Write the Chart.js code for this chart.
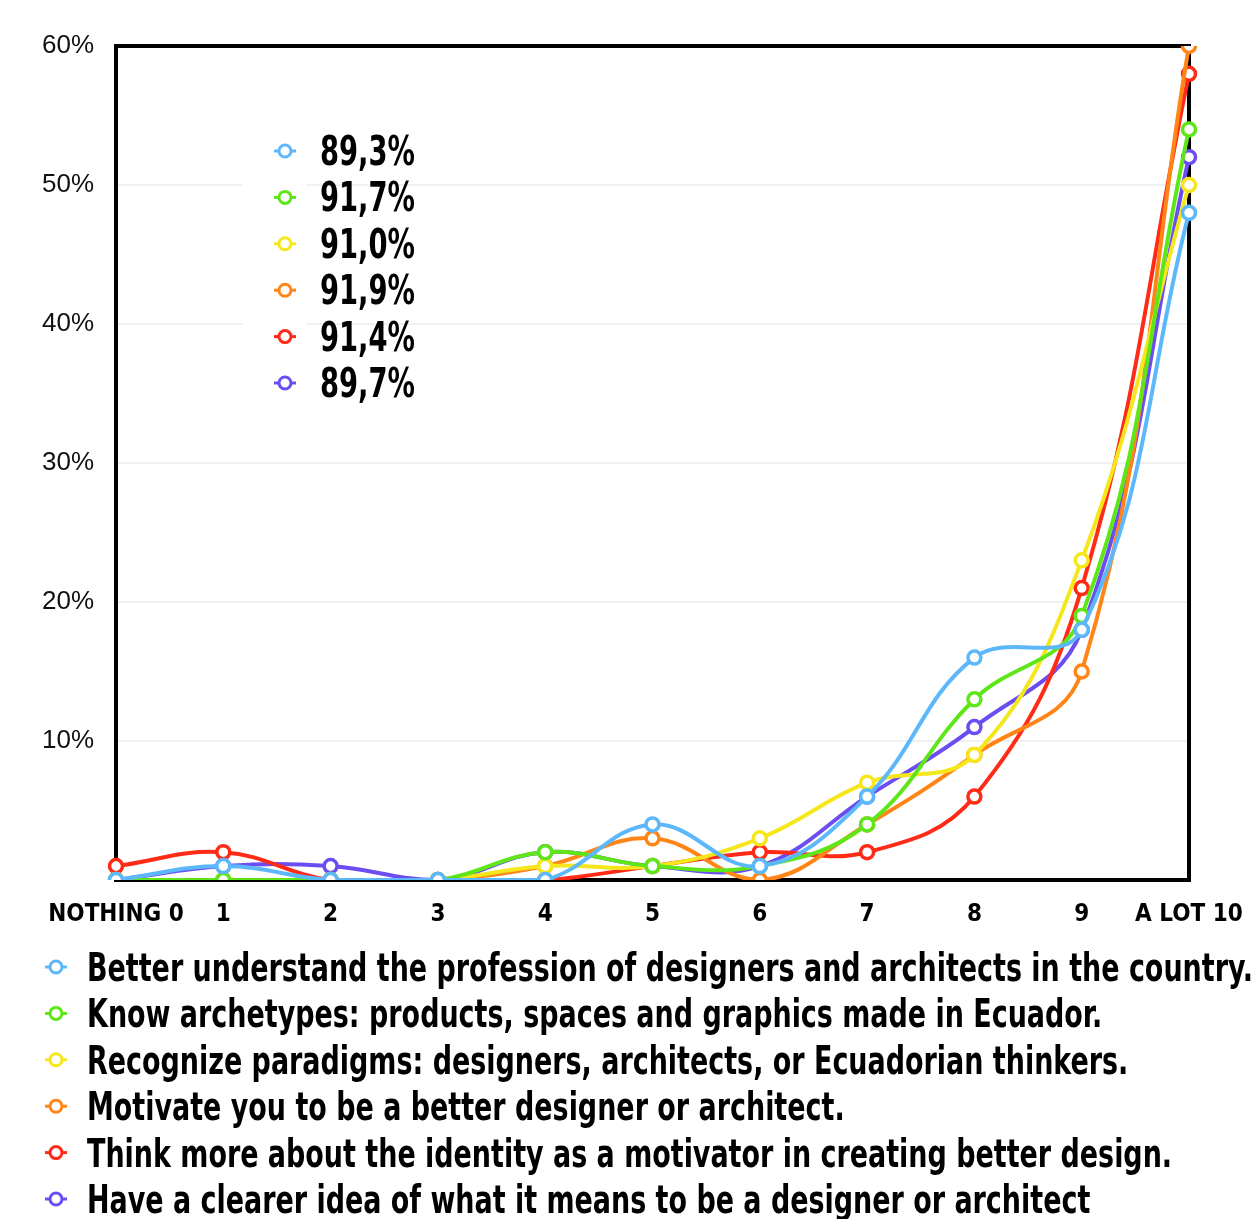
<!DOCTYPE html>
<html>
<head>
<meta charset="utf-8">
<script src="https://cdn.jsdelivr.net/npm/chart.js@4/dist/chart.umd.min.js"></script>
<style>
  html, body { margin: 0; padding: 0; background: #fff; }
  #wrap { width: 1256px; height: 1219px; }
</style>
</head>
<body>
<div id="wrap"><canvas id="chart-motivation" width="1256" height="1219"></canvas></div>
<script>
// data
const xLabels = ['NOTHING 0', '1', '2', '3', '4', '5', '6', '7', '8', '9', 'A LOT 10'];
const yTicks = [0, 10, 20, 30, 40, 50, 60];

const blueData   = [0, 1, 0, 0, 0, 4, 1, 6, 16, 18, 48];
const greenData  = [0, 0, 0, 0, 2, 1, 1, 4, 13, 19, 54];
const yellowData = [0, 0, 0, 0, 1, 1, 3, 7, 9, 23, 50];
const orangeData = [0, 0, 0, 0, 1, 3, 0, 4, 9, 15, 60];
const redData    = [1, 2, 0, 0, 0, 1, 2, 2, 6, 21, 58];
const purpleData = [0, 1, 1, 0, 2, 1, 1, 6, 11, 18, 52];

const seriesNames = [
    'Better understand the profession of designers and architects in the country.',
    'Know archetypes: products, spaces and graphics made in Ecuador.',
    'Recognize paradigms: designers, architects, or Ecuadorian thinkers.',
    'Motivate you to be a better designer or architect.',
    'Think more about the identity as a motivator in creating better design.',
    'Have a clearer idea of what it means to be a designer or architect'
];
const totals = ['89,3%', '91,7%', '91,0%', '91,9%', '91,4%', '89,7%'];
const colors = ['#5cb8fb', '#5fe619', '#f6e61c', '#ff8517', '#ff2b17', '#6b4df2'];

const condensed = '"Liberation Sans Narrow", "DejaVu Sans Condensed", "Roboto Condensed", "Liberation Sans", Arial, sans-serif';

function makeSet(i, data) {
    return {
        label: seriesNames[i],
        data: data,
        borderColor: colors[i],
        backgroundColor: '#ffffff',
        pointBorderColor: colors[i],
        pointBackgroundColor: '#ffffff',
        pointRadius: 6.5,
        pointBorderWidth: 3.5,
        borderWidth: 4,
        tension: 0.4,
        fill: false
    };
}

// black frame round the plot, under the lines
const framePlugin = {
    id: 'frame',
    beforeDatasetsDraw(chart) {
        const a = chart.chartArea;
        const ctx = chart.ctx;
        ctx.save();
        // white patch behind the inner legend markers
        ctx.fillStyle = '#ffffff';
        ctx.fillRect(243, 128, 64, 276);
        ctx.strokeStyle = '#000';
        ctx.lineWidth = 4;
        ctx.strokeRect(a.left, a.top, a.right - a.left, a.bottom - a.top);
        ctx.restore();
    }
};

function drawMarker(ctx, x, y, color) {
    ctx.save();
    ctx.strokeStyle = color;
    ctx.lineWidth = 3;
    ctx.beginPath();
    ctx.moveTo(x - 11, y);
    ctx.lineTo(x + 11, y);
    ctx.stroke();
    ctx.beginPath();
    ctx.arc(x, y, 6, 0, Math.PI * 2);
    ctx.fillStyle = '#fff';
    ctx.fill();
    ctx.stroke();
    ctx.restore();
}

function drawSqueezed(ctx, text, x, y, font, targetWidth, refText) {
    ctx.save();
    ctx.font = font;
    const w = ctx.measureText(refText).width;
    const sx = targetWidth / w;
    ctx.translate(x, y);
    ctx.scale(sx, 1);
    ctx.fillText(text, 0, 0);
    ctx.restore();
}

// both legends: percentages inside the plot, descriptions below it
const legendPlugin = {
    id: 'customLegends',
    afterDraw(chart) {
        const ctx = chart.ctx;
        ctx.save();
        ctx.fillStyle = '#000';
        ctx.textBaseline = 'alphabetic';
        chart.data.datasets.forEach(function (ds, i) {
            const y = 151 + i * 46.4;
            drawMarker(ctx, 285, y, ds.borderColor);
            drawSqueezed(ctx, totals[i], 320, y + 14, 'bold 40px ' + condensed, 95, '89,3%');
        });
        chart.data.datasets.forEach(function (ds, i) {
            const y = 967 + i * 46.4;
            drawMarker(ctx, 56, y, ds.borderColor);
            drawSqueezed(ctx, ds.label, 87, y + 14, 'bold 39px ' + condensed, 1166, seriesNames[0]);
        });
        ctx.restore();
    }
};

const ctx = document.getElementById('chart-motivation').getContext('2d');
const chart_motivation = new Chart(ctx, {
    type: 'line',
    data: {
        labels: xLabels,
        datasets: [
            makeSet(0, blueData),
            makeSet(1, greenData),
            makeSet(2, yellowData),
            makeSet(3, orangeData),
            makeSet(4, redData),
            makeSet(5, purpleData)
        ]
    },
    options: {
        responsive: false,
        animation: false,
        layout: {
            padding: { top: 46, right: 67, left: 0, bottom: 0 }
        },
        scales: {
            x: {
                grid: { display: false, drawTicks: false },
                border: { display: false },
                afterFit: function (scale) {
                    scale.height = 339;
                    // let the last label run past the edge like the original
                    scale.paddingLeft = 0;
                    scale.paddingRight = 0;
                },
                ticks: {
                    padding: 20,
                    color: '#000',
                    maxRotation: 0,
                    autoSkip: false,
                    font: { family: condensed, size: 24, weight: 'bold' }
                }
            },
            y: {
                min: 0,
                max: 60,
                afterFit: function (scale) { scale.width = 116; },
                afterBuildTicks: function (scale) {
                    scale.ticks = yTicks.map(function (v) { return { value: v }; });
                },
                grid: {
                    drawTicks: false,
                    color: function (c) {
                        return (c.tick.value > 0 && c.tick.value < 60) ? '#edf1f1' : 'rgba(0,0,0,0)';
                    },
                    lineWidth: 2
                },
                border: { display: false },
                ticks: {
                    padding: 22,
                    color: '#111',
                    font: { family: '"Liberation Sans", Arial, sans-serif', size: 26 },
                    callback: function (label) {
                        return label === 0 ? '' : label + '%';
                    }
                }
            }
        },
        plugins: {
            legend: { display: false },
            tooltip: { enabled: false }
        }
    },
    plugins: [framePlugin, legendPlugin]
});
</script>
</body>
</html>
